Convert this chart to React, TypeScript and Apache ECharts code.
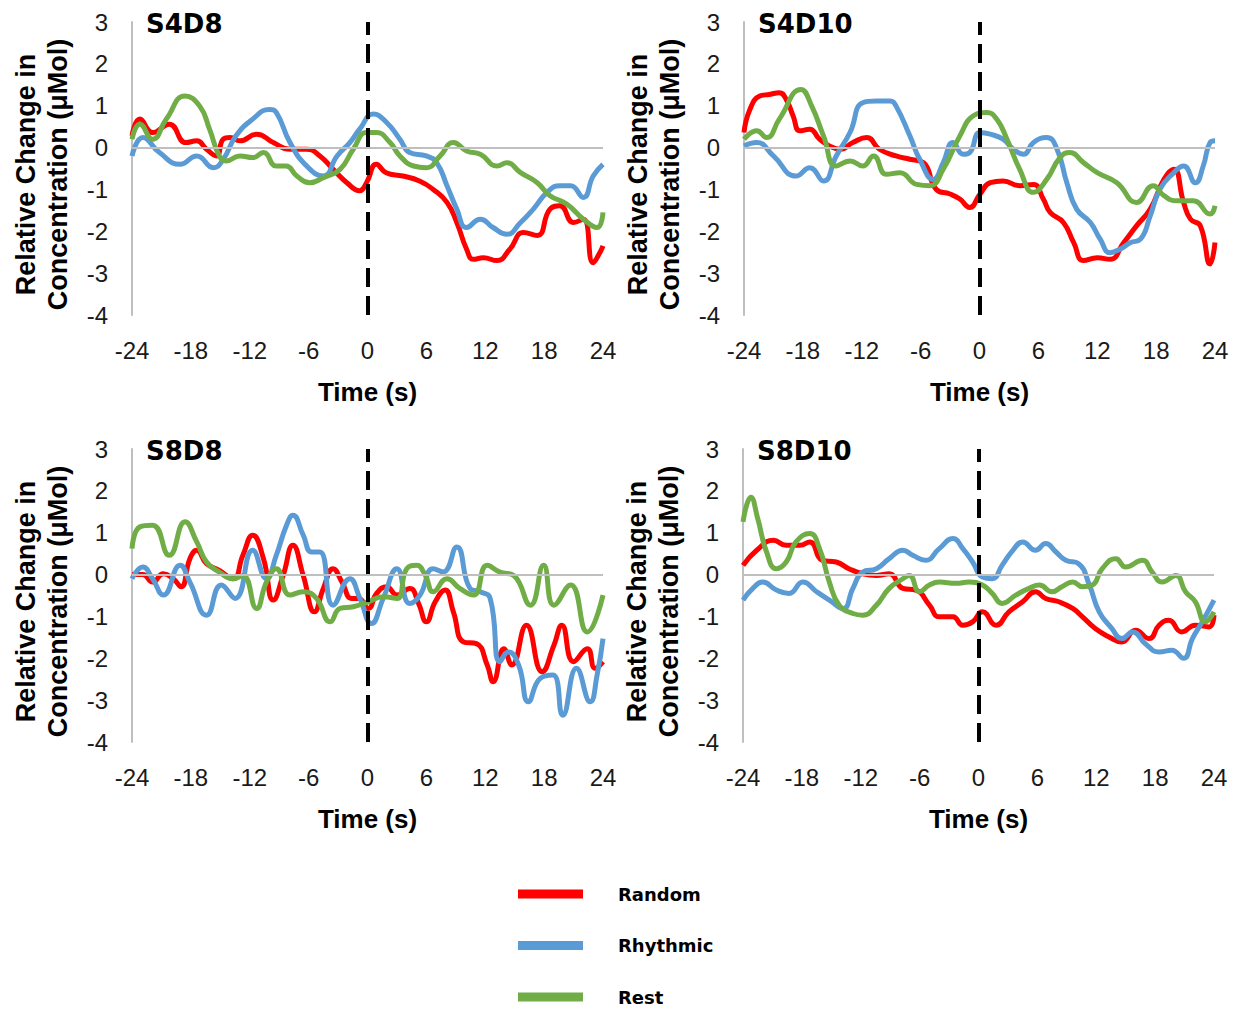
import React, { useEffect, useRef } from "react";
import * as echarts from "echarts";

// ---- Data (time in s, relative change in µMol) ----
const seriesNames = ["Random", "Rhythmic", "Rest"];
const seriesColors = ["#ff0000", "#5b9bd5", "#70ad47"];
const panelTitles = ["S4D8", "S4D10", "S8D8", "S8D10"];
const xTicks = [-24, -18, -12, -6, 0, 6, 12, 18, 24];
const yTicks = [-4, -3, -2, -1, 0, 1, 2, 3];

const s4d8Random = [[-24,0.28],[-23.2,0.68],[-21.9,0.36],[-20.2,0.56],[-18.5,0.12],[-17.4,0.16],[-16.4,-0.04],[-15.4,-0.2],[-14.7,0.2],[-14,0.24],[-13,0.16],[-11.3,0.32],[-9.6,0.12],[-7.9,-0.04],[-6.2,-0.04],[-4.85,-0.2],[-3.5,-0.52],[-2.1,-0.84],[-0.8,-1.03],[-0.1,-0.84],[0.9,-0.4],[1.9,-0.6],[3.6,-0.68],[5.3,-0.8],[6.7,-1.0],[8.1,-1.31],[9.1,-1.79],[10.1,-2.43],[10.8,-2.67],[11.8,-2.63],[13.2,-2.7],[14.5,-2.43],[15.9,-2.03],[17.3,-2.1],[18.6,-1.47],[19.6,-1.39],[21,-1.79],[22,-1.71],[23,-2.75],[23.7,-2.5],[24,-2.35]];
const s4d8Rhythmic = [[-24,-0.2],[-22.9,0.24],[-21.2,-0.12],[-19.1,-0.4],[-17.4,-0.2],[-15.7,-0.48],[-14.7,-0.28],[-13.4,0.28],[-11.7,0.68],[-10,0.91],[-9.3,0.84],[-7.9,0.12],[-6.2,-0.44],[-4.5,-0.68],[-3.1,-0.2],[-1.8,0.12],[-0.8,0.44],[0.6,0.8],[1.95,0.6],[3.3,0.2],[4.3,-0.12],[6,-0.2],[7.05,-0.36],[8.1,-0.91],[9.1,-1.47],[10.1,-1.91],[11.5,-1.71],[12.8,-1.91],[14.2,-2.07],[15.6,-1.79],[16.9,-1.47],[18.3,-1.07],[19.6,-0.91],[20.7,-0.91],[22,-1.19],[23,-0.68],[24,-0.4]];
const s4d8Rest = [[-24,0.2],[-23.2,0.56],[-21.9,0.2],[-20.5,0.68],[-18.6,1.23],[-17.1,0.99],[-16.1,0.44],[-15.1,-0.2],[-14.4,-0.32],[-13,-0.2],[-11.7,-0.24],[-10.6,-0.12],[-9.3,-0.44],[-8.3,-0.44],[-7.2,-0.68],[-5.9,-0.84],[-4.5,-0.72],[-2.8,-0.52],[-1.45,-0.04],[-0.1,0.36],[0.9,0.36],[2.3,0.12],[3.3,-0.2],[4.7,-0.44],[6,-0.48],[7.4,-0.2],[8.75,0.12],[10.1,-0.08],[11.5,-0.16],[13.2,-0.44],[14.2,-0.36],[15.6,-0.6],[17.3,-0.84],[18.6,-1.15],[20.3,-1.35],[22,-1.71],[23.4,-1.91],[24,-1.55]];

const s4d10Random = [[-24,0.36],[-23.4,0.91],[-22.4,1.23],[-21.4,1.27],[-20.4,1.31],[-19.7,1.15],[-19,0.76],[-18.3,0.4],[-17.3,0.44],[-16.3,0.2],[-15.3,0.04],[-14.2,-0.04],[-12.9,0.12],[-11.5,0.24],[-10.2,-0.04],[-8.5,-0.2],[-7.1,-0.28],[-5.7,-0.36],[-4.4,-1.0],[-3,-1.11],[-2,-1.23],[-1,-1.43],[0.05,-1.11],[1.1,-0.84],[2.4,-0.8],[4.1,-0.91],[5.5,-0.88],[6.5,-1.23],[7.2,-1.55],[8.55,-1.79],[9.6,-2.27],[10.6,-2.7],[12,-2.63],[13.3,-2.67],[14.7,-2.27],[16,-1.87],[17.4,-1.47],[18.8,-0.76],[19.8,-0.52],[20.8,-1.31],[21.5,-1.71],[22.5,-1.87],[23.5,-2.78],[24,-2.27]];
const s4d10Rhythmic = [[-24,0.04],[-22.7,0.12],[-21,-0.2],[-18.7,-0.68],[-17.3,-0.48],[-15.9,-0.8],[-14.6,-0.2],[-13.2,0.36],[-11.9,1.07],[-10.5,1.11],[-9.1,1.11],[-8.5,0.99],[-7.1,0.28],[-6.1,-0.28],[-4.7,-0.76],[-3.7,-0.36],[-2.7,0.12],[-1.65,-0.16],[-1,-0.12],[0.05,0.36],[1.1,0.32],[2.4,0.2],[3.45,-0.04],[4.5,-0.16],[5.5,0.12],[6.85,0.24],[7.9,-0.04],[8.9,-0.84],[9.9,-1.47],[11.3,-1.79],[12.3,-2.19],[13.3,-2.51],[14.3,-2.43],[15.4,-2.27],[16.4,-2.19],[17.4,-1.63],[18.4,-0.99],[19.8,-0.6],[20.8,-0.44],[22,-0.84],[22.8,-0.44],[23.5,0.12],[24,0.16]];
const s4d10Rest = [[-24,0.2],[-22.7,0.4],[-21.7,0.24],[-20.4,0.68],[-18.2,1.39],[-17.1,0.99],[-15.9,0.28],[-14.6,-0.44],[-13.2,-0.32],[-11.9,-0.44],[-10.8,-0.2],[-9.5,-0.64],[-8.1,-0.6],[-6.4,-0.88],[-5.05,-0.91],[-3.7,-0.52],[-2,0.28],[-0.63,0.76],[0.73,0.84],[1.75,0.68],[2.8,0.2],[4.1,-0.52],[5.5,-1.07],[6.85,-0.76],[8.2,-0.24],[9.2,-0.12],[10.6,-0.36],[12,-0.6],[14,-0.84],[16,-1.31],[17.7,-0.91],[18.8,-1.15],[20.1,-1.27],[21.8,-1.27],[23.5,-1.59],[24,-1.39]];

const s8d8Random = [[-24,0],[-22.9,0],[-21.9,-0.18],[-20.8,0.02],[-19.8,-0.1],[-19,-0.29],[-18.1,0.38],[-17.4,0.58],[-16.4,0.26],[-15.1,0.1],[-13.7,-0.1],[-12.7,0.46],[-11.7,0.94],[-10.6,0.38],[-9.6,-0.61],[-8.6,-0.02],[-7.6,0.7],[-6.55,-0.02],[-5.4,-0.89],[-4.5,-0.33],[-3.5,0.14],[-2.6,-0.18],[-1.6,-0.57],[-0.9,-0.57],[0.08,-0.81],[0.93,-0.45],[1.95,-0.29],[3,-0.49],[4.3,-0.33],[5.2,-0.69],[6,-1.13],[6.9,-0.65],[7.9,-0.37],[8.75,-0.89],[9.8,-1.61],[11.1,-1.65],[12.2,-2.16],[12.8,-2.56],[13.9,-1.77],[14.7,-2.16],[16.2,-1.21],[17.8,-2.32],[19,-1.69],[19.8,-1.21],[21,-2.08],[22.4,-1.77],[23.2,-2.24],[24,-2.08]];
const s8d8Rhythmic = [[-24,-0.1],[-22.9,0.18],[-21.9,-0.1],[-20.8,-0.49],[-19.1,0.22],[-18.1,-0.18],[-16.4,-0.97],[-14.9,-0.25],[-13.5,-0.57],[-11.7,0.58],[-10.3,-0.1],[-9.3,0.46],[-8.25,1.18],[-7.6,1.42],[-6.55,0.94],[-5.7,0.54],[-4.85,0.54],[-3.5,-0.73],[-1.8,-0.1],[-0.77,-0.57],[0.4,-1.17],[1.6,-0.57],[3,0.14],[4.3,-0.69],[5.35,-0.49],[6.7,0.14],[7.7,0.06],[9.1,0.66],[10.45,-0.33],[11.5,-0.41],[12.5,-0.57],[13.5,-2.08],[14.35,-1.85],[15.4,-2.16],[16.4,-3.04],[17.6,-2.48],[18.9,-2.4],[19.9,-3.36],[21.3,-2.24],[22.7,-3.04],[23.4,-2.4],[24,-1.53]];
const s8d8Rest = [[-24,0.62],[-23.2,1.14],[-21.9,1.18],[-20.2,0.46],[-18.6,1.26],[-17.4,0.78],[-16.4,0.3],[-15.1,0.06],[-13.7,-0.1],[-12.7,-0.02],[-11.3,-0.81],[-10.3,-0.18],[-9.3,0.14],[-7.9,-0.49],[-6.55,-0.41],[-5.2,-0.57],[-3.8,-1.13],[-2.8,-0.81],[-1.45,-0.77],[0.08,-0.65],[1.6,-0.53],[3,-0.57],[4,0.14],[5,0.22],[5.9,-0.02],[6.7,-0.41],[8.1,-0.1],[9.4,-0.33],[10.8,-0.49],[12.2,0.22],[13.5,0.06],[14.9,-0.02],[16.6,-0.73],[17.95,0.22],[19,-0.73],[20.7,-0.25],[22.4,-1.37],[24,-0.49]];

const s8d10Random = [[-24,0.22],[-22.6,0.58],[-20.9,0.82],[-19.6,0.7],[-18.2,0.7],[-17.2,0.78],[-15.9,0.34],[-14.5,0.3],[-13.2,0.14],[-11.8,0.02],[-10.4,-0.02],[-9.1,0.02],[-7.7,-0.33],[-6.4,-0.37],[-5,-0.73],[-4,-1.01],[-2.6,-1.01],[-1.6,-1.21],[-0.6,-1.13],[0.4,-0.89],[1.8,-1.21],[3.1,-0.89],[4.5,-0.65],[5.8,-0.41],[6.85,-0.57],[8.2,-0.65],[9.6,-0.81],[10.6,-1.01],[11.9,-1.29],[13.3,-1.49],[14.6,-1.61],[16,-1.33],[17.4,-1.53],[18.4,-1.21],[19.4,-1.09],[20.7,-1.37],[22.1,-1.21],[23.5,-1.25],[24,-0.97]];
const s8d10Rhythmic = [[-24,-0.61],[-23,-0.33],[-22,-0.18],[-20.6,-0.37],[-19.3,-0.45],[-17.9,-0.18],[-16.5,-0.41],[-15.2,-0.61],[-13.8,-0.81],[-12.8,-0.33],[-11.8,0.06],[-10.4,0.14],[-9.1,0.38],[-7.7,0.58],[-6.7,0.46],[-5.4,0.34],[-4,0.62],[-2.6,0.86],[-1.6,0.62],[-0.6,0.3],[0.4,-0.06],[1.4,-0.1],[2.4,0.22],[3.5,0.58],[4.5,0.78],[5.8,0.58],[6.85,0.74],[7.9,0.54],[8.9,0.34],[10.2,0.26],[11.3,-0.25],[12.3,-0.89],[13.6,-1.29],[14.6,-1.53],[15.7,-1.37],[17,-1.65],[18.4,-1.85],[19.7,-1.81],[20.9,-2.0],[21.8,-1.53],[22.8,-1.13],[24,-0.61]];
const s8d10Rest = [[-24,1.26],[-23.2,1.85],[-22.5,1.34],[-21.6,0.54],[-20.6,0.14],[-19.6,0.3],[-18.6,0.78],[-17.2,0.98],[-16.2,0.62],[-15.2,-0.18],[-14.2,-0.73],[-12.8,-0.93],[-11.8,-0.97],[-10.4,-0.73],[-9.1,-0.33],[-7.7,-0.1],[-7.05,-0.02],[-6,-0.41],[-5,-0.25],[-4,-0.18],[-2.3,-0.21],[-0.95,-0.18],[0.4,-0.25],[1.4,-0.45],[2.4,-0.69],[3.8,-0.49],[5.15,-0.33],[6.2,-0.25],[7.5,-0.41],[8.5,-0.29],[9.6,-0.18],[10.6,-0.29],[11.6,-0.25],[12.6,0.14],[14,0.38],[15,0.18],[16.7,0.34],[17.7,0.06],[18.7,-0.18],[20.1,-0.02],[21.1,-0.41],[22.1,-0.65],[23.1,-1.13],[24,-0.89]];

const panelData = [
  [s4d8Random, s4d8Rhythmic, s4d8Rest],
  [s4d10Random, s4d10Rhythmic, s4d10Rest],
  [s8d8Random, s8d8Rhythmic, s8d8Rest],
  [s8d10Random, s8d10Rhythmic, s8d10Rest],
];

const gridPos = [
  { left: 132, top: 22 },
  { left: 744, top: 22 },
  { left: 132, top: 449 },
  { left: 743, top: 449 },
];
const GRID_W = 471;
const GRID_H = 293;

const tickFont = { fontFamily: "Liberation Sans, Arial", fontSize: 24, color: "#1a1a1a" };
const titleFont = { fontFamily: "Liberation Sans, Arial", fontWeight: "bold" as const, fontSize: 27, color: "#000" };

function buildOption() {
  const grid = gridPos.map((g) => ({ left: g.left, top: g.top, width: GRID_W, height: GRID_H }));
  const xAxis = gridPos.map((_, i) => ({
    type: "value",
    gridIndex: i,
    min: xTicks[0],
    max: xTicks[xTicks.length - 1],
    interval: 6,
    axisLine: { show: false },
    axisTick: { show: false },
    splitLine: { show: false },
    axisLabel: { ...tickFont, margin: 23 },
    name: "Time (s)",
    nameLocation: "middle",
    nameGap: 64,
    nameTextStyle: { ...titleFont, fontSize: 26 },
  }));
  const yAxis = gridPos.map((_, i) => ({
    type: "value",
    gridIndex: i,
    min: yTicks[0],
    max: yTicks[yTicks.length - 1],
    interval: 1,
    axisLine: { show: true, onZero: false, lineStyle: { color: "#bfbfbf", width: 2 } },
    axisTick: { show: false },
    splitLine: { show: false },
    axisLabel: { ...tickFont, margin: 24 },
    name: "Relative Change in\nConcentration (μMol)",
    nameLocation: "middle",
    nameGap: 58,
    nameTextStyle: { ...titleFont, lineHeight: 32, padding: [0, 12, 0, 0] },
  }));
  const series: any[] = [];
  panelData.forEach((curves, i) => {
    series.push({
      type: "line",
      name: "zero",
      xAxisIndex: i,
      yAxisIndex: i,
      data: [],
      z: 1,
      silent: true,
      markLine: {
        silent: true,
        symbol: ["none", "none"],
        label: { show: false },
        lineStyle: { color: "#bfbfbf", width: 2, type: "solid" },
        data: [{ yAxis: 0 }],
      },
    });
    curves.forEach((d, k) => {
      series.push({
        type: "line",
        name: seriesNames[k],
        xAxisIndex: i,
        yAxisIndex: i,
        data: d,
        smooth: 0.5,
        showSymbol: false,
        symbol: "none",
        color: seriesColors[k],
        itemStyle: { color: seriesColors[k] },
        lineStyle: { color: seriesColors[k], width: 5 },
        z: 2 + k,
      });
    });
    series.push({
      type: "line",
      name: "onset",
      xAxisIndex: i,
      yAxisIndex: i,
      data: [],
      z: 10,
      silent: true,
      markLine: {
        silent: true,
        symbol: ["none", "none"],
        label: { show: false },
        lineStyle: { color: "#000", width: 4, type: [19, 9] },
        data: [{ xAxis: 0 }],
      },
    });
  });

  const title = panelTitles.map((t, i) => ({
    text: t,
    left: gridPos[i].left + 14,
    top: gridPos[i].top - 11,
    padding: 0,
    textStyle: { fontFamily: "DejaVu Sans", fontWeight: "bold", fontSize: 26, color: "#000" },
  }));

  return {
    animation: false,
    backgroundColor: "#ffffff",
    title,
    grid,
    xAxis,
    yAxis,
    legend: {
      data: seriesNames,
      orient: "vertical",
      left: 518,
      top: 884,
      padding: 0,
      icon: "rect",
      itemWidth: 65,
      itemHeight: 9,
      itemGap: 31.5,
      selectedMode: false,
      textStyle: {
        fontFamily: "DejaVu Sans",
        fontWeight: "bold",
        fontSize: 18,
        lineHeight: 20,
        color: "#000",
        padding: [0, 0, 0, 30],
      },
    },
    series,
  };
}

export default function App() {
  const ref = useRef<HTMLDivElement>(null);
  useEffect(() => {
    if (!ref.current) return;
    const chart = echarts.init(ref.current, undefined, { renderer: "svg" });
    chart.setOption(buildOption() as any);
    return () => chart.dispose();
  }, []);
  return (
    <div
      ref={ref}
      style={{ position: "fixed", left: 0, top: 0, width: 1242, height: 1009, background: "#fff" }}
    />
  );
}
